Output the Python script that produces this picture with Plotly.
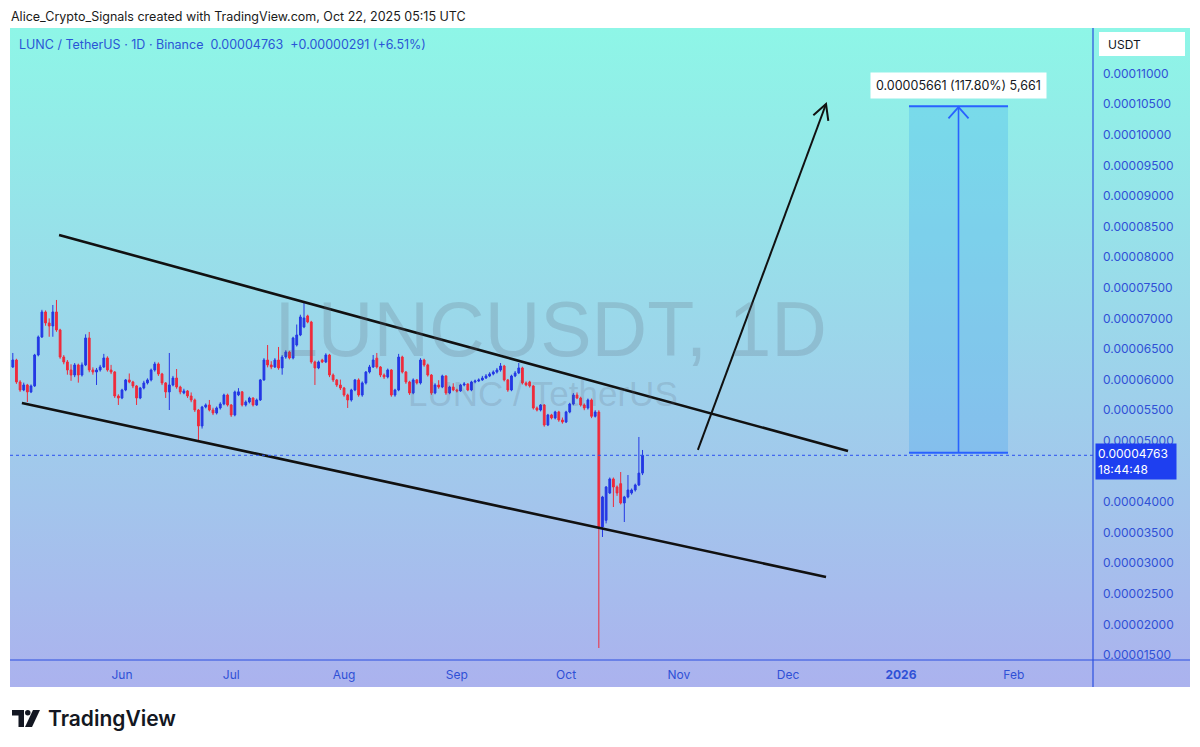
import base64, math
import numpy as np
import pandas as pd
import plotly.graph_objects as go

# ---------------- data (prices in units of 1e-8 USDT) ----------------
start_date = "2025-05-02"
opens = [6206,6320,5961,5830,5912,5798,5896,6402,6696,7105,6925,6876,7105,6811,6369,6288,6157,6075,6239,6075,
         6239,6680,6157,6124,6157,6206,6353,6157,6124,5732,5699,5830,5994,5961,5896,5699,5863,5945,5994,6157,
         6255,6092,5945,5798,5912,6026,5879,5781,5814,5732,5667,5503,5242,5552,5585,5503,5454,5536,5601,5748,
         5585,5422,5750,5800,5585,5634,5699,5585,5667,5994,6320,6239,6206,6320,6190,6369,6451,6353,6565,6729,
         6860,7040,6941,6288,6190,6320,6288,6402,6075,5994,5912,5863,5748,5667,5830,5994,5748,5945,6124,6206,
         6350,6206,6075,6043,6157,5748,5830,6369,6124,5961,5781,5994,5945,6320,6239,6075,5781,5912,5879,6059,
         5781,5879,5830,5814,5912,5928,5830,5961,5977,5994,6026,6059,6092,6124,6157,6222,5994,5830,6059,6108,
         6190,5945,5961,5896,5536,5503,5585,5258,5422,5373,5471,5340,5307,5471,5601,5748,5699,5585,5536,5667,
         5400,5470,3592,3700,4147,4376,4245,4300,3984,4082,4147,4196,4278,4472]
highs = [6435,6340,5990,5950,5930,5920,6420,6720,7140,7130,7000,7219,7301,6830,6400,6320,6250,6270,6260,6280,
         6740,6778,6200,6190,6240,6420,6380,6240,6140,5760,5850,6010,6100,5980,5910,5880,5980,6020,6180,6290,
         6280,6110,5960,6435,6060,6173,5900,5850,5830,5790,5690,5520,5570,5610,5667,5540,5560,5630,5770,5770,
         5600,5820,5860,5810,5660,5720,5710,5690,6010,6350,6565,6300,6350,6533,6400,6480,6470,6700,6900,7060,
         7268,7060,6960,6310,6310,6340,6430,6420,6100,6010,6000,5880,5770,5850,6010,6020,5970,6140,6240,6402,
         6435,6220,6100,6180,6170,5850,6420,6390,6140,5980,6020,6010,6350,6340,6260,6090,5940,5990,6080,6070,
         5900,5940,5850,5930,5960,5940,5980,6000,6020,6060,6090,6120,6150,6190,6271,6240,6010,6080,6140,6271,
         6210,5970,5980,5910,5560,5600,5600,5440,5440,5490,5490,5380,5490,5620,5780,5790,5720,5610,5690,5690,
         5500,5500,4100,4260,4400,4400,4270,4490,4100,4441,4220,4300,5062,4850]
lows = [6190,5930,5800,5810,5634,5780,5880,6380,6680,6880,6700,6700,6780,6340,6250,6080,5980,6040,5950,6050,
        6220,6120,6080,5912,6130,6190,6130,6090,5700,5585,5680,5810,5940,5860,5585,5680,5840,5920,5970,6130,
        6060,5910,5700,5503,5890,5850,5760,5760,5700,5630,5470,5013,5200,5530,5480,5420,5430,5510,5580,5560,
        5390,5400,5730,5560,5560,5610,5560,5570,5650,5980,6200,6170,6190,6160,6080,6340,6330,6330,6540,6710,
        6840,6920,6260,5912,6170,6270,6270,6040,5960,5880,5830,5720,5536,5640,5810,5720,5720,5920,6100,6190,
        6180,6040,6010,6020,5720,5720,5810,6100,5930,5750,5760,5920,5920,6210,6050,5750,5760,5850,5860,5750,
        5760,5810,5790,5800,5890,5810,5810,5940,5960,5980,6010,6040,6070,6100,6130,5970,5800,5810,6040,6090,
        5920,5890,5870,5510,5480,5480,5230,5240,5350,5350,5310,5280,5290,5450,5580,5680,5560,5500,5510,5370,
        5380,1614,3428,3650,4130,3918,4100,3960,3673,4060,4120,4170,4260,4440]
closes = [6320,5961,5830,5912,5798,5896,6402,6696,7105,6925,6876,7105,6811,6369,6288,6157,6075,6239,6075,6239,
          6680,6157,6124,6157,6206,6353,6157,6124,5732,5699,5830,5994,5961,5896,5699,5863,5945,5994,6157,6255,
          6092,5945,5798,5912,6026,5879,5798,5814,5732,5667,5503,5242,5552,5585,5503,5454,5536,5601,5748,5585,
          5422,5798,5800,5585,5634,5699,5585,5667,5994,6320,6239,6206,6320,6190,6369,6451,6353,6680,6729,7023,
          7007,6941,6288,6190,6288,6288,6402,6075,5994,5912,5863,5748,5667,5830,5994,5748,5945,6124,6206,6320,
          6206,6075,6043,6157,5748,5830,6369,6124,5961,5781,5994,5945,6320,6239,6075,5781,5912,5879,6059,5781,
          5879,5830,5814,5912,5928,5830,5961,5977,5994,6026,6059,6092,6124,6157,6222,5994,5830,6059,6108,6190,
          5945,5912,5896,5536,5503,5585,5258,5422,5373,5471,5340,5307,5471,5601,5748,5699,5585,5536,5667,5400,
          5470,3575,4082,4245,4376,4245,4147,3984,4082,4196,4196,4278,4472,4763]

last_price = 4763
price_ticks = [1500,2000,2500,3000,3500,4000,5000,5500,6000,6500,7000,7500,8000,8500,9000,9500,10000,10500,11000]
month_ticks = ["2025-06-01","2025-07-01","2025-08-01","2025-09-01","2025-10-01","2025-11-01","2025-12-01","2026-01-01","2026-02-01"]
month_labels = ["Jun","Jul","Aug","Sep","Oct","Nov","Dec","<b>2026</b>","Feb"]

# drawings (date, price in 1e-8 units)
upper_line = [("2025-05-14 17:00", 8363), ("2025-12-17 11:00", 4833)]
lower_line = [("2025-05-04 12:00", 5618), ("2025-12-11 10:00", 2775)]
target_arrow = [("2025-11-06 05:00", 4850), ("2025-12-11 10:00", 10503)]
measure_x = ["2026-01-03 05:00", "2026-01-30 10:00"]
measure_low, measure_high = 4806, 10467
measure_text = "0.00005661 (117.80%) 5,661"

SC = 1e-8
dates = pd.date_range(start_date, periods=len(closes), freq="D")

# ---------------- layout geometry ----------------
W, H = 1200, 747
PL, PR, PT, PB = 10, 1093, 28, 660
x_range = [pd.Timestamp("2025-05-01 05:32"), pd.Timestamp("2026-02-22 18:14")]
y_range = [1418 * SC, 11745 * SC]

def pxp(px):
    return (px - PL) / (PR - PL)

def pyp(py):
    return (PB - py) / (PB - PT)

def d2px(d):
    d = pd.Timestamp(d)
    return PL + (d - x_range[0]) / (x_range[1] - x_range[0]) * (PR - PL)

def p2py(p):
    return PB - (p * SC - y_range[0]) / (y_range[1] - y_range[0]) * (PB - PT)

BLUE = "#2438e4"
RED = "#ef2b3b"
AXC = "#2f50d6"
FONT = "Inter"

fig = go.Figure()
fig.add_trace(go.Candlestick(
    x=dates,
    open=np.array(opens) * SC, high=np.array(highs) * SC,
    low=np.array(lows) * SC, close=np.array(closes) * SC,
    increasing=dict(line=dict(color=BLUE, width=1), fillcolor=BLUE),
    decreasing=dict(line=dict(color=RED, width=1), fillcolor=RED),
    whiskerwidth=0, showlegend=False, hoverinfo="skip"))

shapes = []
annotations = []

# trend lines
for ln in (upper_line, lower_line):
    shapes.append(dict(type="line", xref="x", yref="y",
                       x0=ln[0][0], y0=ln[0][1] * SC, x1=ln[1][0], y1=ln[1][1] * SC,
                       line=dict(color="#111111", width=2.6)))
# target arrow
shapes.append(dict(type="line", xref="x", yref="y",
                   x0=target_arrow[0][0], y0=target_arrow[0][1] * SC,
                   x1=target_arrow[1][0], y1=target_arrow[1][1] * SC,
                   line=dict(color="#111111", width=2)))

def arrow_head(sx, sy, tx, ty, length, ang_deg, color, width):
    ux, uy = tx - sx, ty - sy
    n = math.hypot(ux, uy)
    ux, uy = ux / n, uy / n
    pts = []
    for s in (1, -1):
        a = math.radians(ang_deg) * s
        rx = ux * math.cos(a) - uy * math.sin(a)
        ry = ux * math.sin(a) + uy * math.cos(a)
        pts.append((tx - length * rx, ty - length * ry))
    path = (f"M{pxp(pts[0][0])},{pyp(pts[0][1])} L{pxp(tx)},{pyp(ty)} "
            f"L{pxp(pts[1][0])},{pyp(pts[1][1])}")
    return dict(type="path", xref="paper", yref="paper", path=path,
                line=dict(color=color, width=width))

sx, sy = d2px(target_arrow[0][0]), p2py(target_arrow[0][1])
tx, ty = d2px(target_arrow[1][0]), p2py(target_arrow[1][1])
shapes.append(arrow_head(sx, sy, tx, ty, 17, 28, "#111111", 2))

# measurement box
MB = "#2962ff"
shapes.append(dict(type="rect", xref="x", yref="y", x0=measure_x[0], x1=measure_x[1],
                   y0=measure_low * SC, y1=measure_high * SC,
                   fillcolor="rgba(33,150,243,0.22)", line=dict(width=0), layer="above"))
for yv in (measure_low, measure_high):
    shapes.append(dict(type="line", xref="x", yref="y", x0=measure_x[0], x1=measure_x[1],
                       y0=yv * SC, y1=yv * SC, line=dict(color=MB, width=2)))
mx_mid = pd.Timestamp(measure_x[0]) + (pd.Timestamp(measure_x[1]) - pd.Timestamp(measure_x[0])) / 2
shapes.append(dict(type="line", xref="x", yref="y", x0=mx_mid, x1=mx_mid,
                   y0=measure_low * SC, y1=measure_high * SC, line=dict(color=MB, width=1.6)))
mpx = d2px(mx_mid)
shapes.append(arrow_head(mpx, p2py(measure_low), mpx, p2py(measure_high) + 1, 15, 42, MB, 1.8))

annotations.append(dict(xref="x", yref="paper", x=mx_mid, y=pyp(p2py(measure_high) - 21),
                        text=measure_text, showarrow=False, bgcolor="white",
                        font=dict(family=FONT, size=12.5, color="#131722"),
                        borderpad=5, xanchor="center", yanchor="middle"))

# last price dotted line
shapes.append(dict(type="line", xref="paper", yref="y", x0=0, x1=1,
                   y0=last_price * SC, y1=last_price * SC,
                   line=dict(color="#2a4ff0", width=1, dash="dot")))

# axes borders
shapes.append(dict(type="line", xref="paper", yref="paper", x0=pxp(PR), x1=pxp(PR),
                   y0=pyp(28), y1=pyp(687), line=dict(color="#2b4fe0", width=1.2)))
shapes.append(dict(type="line", xref="paper", yref="paper", x0=pxp(10), x1=pxp(1190),
                   y0=pyp(660), y1=pyp(660), line=dict(color="#2b4fe0", width=1.2)))

# USDT box
shapes.append(dict(type="rect", xref="paper", yref="paper", x0=pxp(1099), x1=pxp(1185),
                   y0=pyp(56), y1=pyp(32), fillcolor="white", line=dict(width=0)))
annotations.append(dict(xref="paper", yref="paper", x=pxp(1106), y=pyp(44), text="USDT",
                        showarrow=False, xanchor="left", yanchor="middle",
                        font=dict(family=FONT, size=12, color="#131722")))

# price label
annotations.append(dict(xref="paper", yref="paper", x=pxp(1095), y=pyp(461.5),
                        text="0.00004763<br>18:44:48", showarrow=False, align="left",
                        xanchor="left", yanchor="middle", bgcolor="#1e3ff0", width=76,
                        borderpad=2, font=dict(family=FONT, size=12, color="white")))

# watermark
annotations.append(dict(xref="paper", yref="paper", x=pxp(551), y=pyp(329),
                        text="LUNCUSDT, 1D", showarrow=False, xanchor="center", yanchor="middle",
                        font=dict(family="Liberation Sans", size=77, color="rgba(95,105,125,0.22)")))
annotations.append(dict(xref="paper", yref="paper", x=pxp(543), y=pyp(393),
                        text="LUNC / TetherUS", showarrow=False, xanchor="center", yanchor="middle",
                        font=dict(family="Liberation Sans", size=35, color="rgba(95,105,125,0.2)")))

# header texts
annotations.append(dict(xref="paper", yref="paper", x=pxp(17), y=pyp(44),
                        text="LUNC / TetherUS · 1D · Binance  0.00004763  +0.00000291 (+6.51%)",
                        showarrow=False, xanchor="left", yanchor="middle",
                        font=dict(family=FONT, size=12.5, color="#2a56d6")))
annotations.append(dict(xref="paper", yref="paper", x=pxp(9), y=pyp(17),
                        text="Alice_Crypto_Signals created with TradingView.com, Oct 22, 2025 05:15 UTC",
                        showarrow=False, xanchor="left", yanchor="middle",
                        font=dict(family=FONT, size=12.5, color="#1a1a1a")))

# TradingView logo
def ppath(pts):
    return "M" + " L".join(f"{pxp(a)},{pyp(b)}" for a, b in pts) + " Z"

shapes.append(dict(type="path", xref="paper", yref="paper",
                   path=ppath([(12, 710), (24, 710), (24, 727), (18.5, 727), (18.5, 715.5), (12, 715.5)]),
                   fillcolor="#131722", line=dict(width=0)))
shapes.append(dict(type="circle", xref="paper", yref="paper",
                   x0=pxp(25), x1=pxp(30.5), y0=pyp(715.5), y1=pyp(710),
                   fillcolor="#131722", line=dict(width=0)))
shapes.append(dict(type="path", xref="paper", yref="paper",
                   path=ppath([(33, 710), (40, 710), (32, 727), (25, 727)]),
                   fillcolor="#131722", line=dict(width=0)))
annotations.append(dict(xref="paper", yref="paper", x=pxp(46), y=pyp(718),
                        text="TradingView", showarrow=False, xanchor="left", yanchor="middle",
                        font=dict(family=FONT, size=21, color="#131722", weight=600)))

# background gradient
svg = ('<svg xmlns="http://www.w3.org/2000/svg" width="1180" height="659" preserveAspectRatio="none">'
       '<defs><linearGradient id="g" x1="0" y1="0" x2="0" y2="1">'
       '<stop offset="0" stop-color="#8ef6e7"/><stop offset="1" stop-color="#abb2ee"/>'
       '</linearGradient></defs><rect width="1180" height="659" fill="url(#g)"/></svg>')
src = "data:image/svg+xml;base64," + base64.b64encode(svg.encode()).decode()

fig.update_layout(
    width=W, height=H, autosize=False,
    margin=dict(l=PL, r=W - PR, t=PT, b=H - PB, pad=0),
    paper_bgcolor="white", plot_bgcolor="rgba(0,0,0,0)",
    showlegend=False,
    images=[dict(source=src, xref="paper", yref="paper", x=pxp(10), y=pyp(28),
                 sizex=pxp(1190) - pxp(10), sizey=pyp(28) - pyp(687),
                 xanchor="left", yanchor="top", sizing="stretch", layer="below")],
    xaxis=dict(type="date", range=x_range, rangeslider=dict(visible=False),
               showgrid=False, zeroline=False, showline=False, ticks="",
               tickvals=month_ticks, ticktext=month_labels, ticklabelstandoff=6,
               tickfont=dict(family=FONT, size=12, color=AXC)),
    yaxis=dict(range=y_range, side="right", showgrid=False, zeroline=False, showline=False,
               ticks="", tickvals=[v * SC for v in price_ticks], tickformat=".8f",
               ticklabelstandoff=9, tickfont=dict(family=FONT, size=12, color=AXC)),
    shapes=shapes, annotations=annotations,
)

fig.write_html("out.html", config={"displayModeBar": False},
               post_script="document.body.style.margin='0';")
